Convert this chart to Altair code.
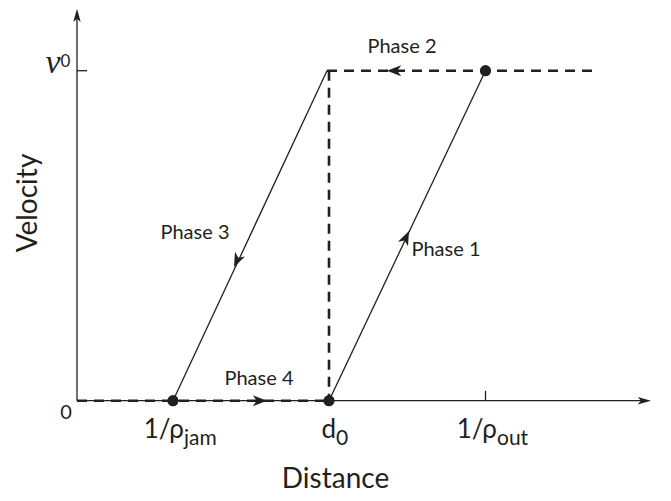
import altair as alt
import pandas as pd

# ---- values (distance in arbitrary units, velocity in units of v0) ----
inv_rho_jam = 0.96
d0 = 2.52
inv_rho_out = 4.085
phase3_top = 2.50
x_axis_end = 5.74
phase2_end = 5.21
v0 = 1.0
y_axis_end = 1.188

# scale domains
X_DOM = [-0.69, 5.86]
Y_DOM = [-0.2797, 1.19]
INK = "#231f20"
FONT = "Lato"

# axes + ticks
axis_x1 = [0, 0, 0, inv_rho_out]
axis_y1 = [0, 0, v0, 0]
axis_x2 = [0, x_axis_end - 0.06, 0.10, inv_rho_out]
axis_y2 = [y_axis_end - 0.03, 0, v0, 0.03]

# solid phase lines (phase 3 and phase 1)
solid_x1 = [inv_rho_jam, d0]
solid_y1 = [0, 0]
solid_x2 = [phase3_top, inv_rho_out]
solid_y2 = [v0, v0]

# dashed lines (phase 2 top, vertical at d0, phase 4 bottom)
dash_x1 = [phase3_top, d0, 0]
dash_y1 = [v0, v0, 0]
dash_x2 = [phase2_end, d0, d0]
dash_y2 = [v0, 0, 0]

# dots
dot_x = [inv_rho_jam, d0, inv_rho_out]
dot_y = [0, 0, v0]

# axis arrow heads (tip positions, direction in degrees clockwise from up)
ax_arrow_x = [0, x_axis_end]
ax_arrow_y = [y_axis_end, 0]
ax_arrow_angle = [0, 90]

# phase arrows on the cycle
ph_arrow_x = [3.32, 3.10, 1.57, 1.90]
ph_arrow_y = [0.514, v0, 0.405, 0]
ph_arrow_angle = [25, 270, 205, 90]

# phase labels
phase_text = ["Phase 1", "Phase 2", "Phase 3", "Phase 4"]
phase_x = [3.69, 3.25, 1.18, 1.82]
phase_y = [0.456, 1.072, 0.508, 0.066]

# tick labels: main part + subscript
tick_main = ["1/ρ", "d", "1/ρ"]
tick_sub = ["jam", "0", "out"]
tick_split_x = [1.07, 2.59, 4.20]
tick_main_y = [-0.112, -0.112, -0.112]
tick_sub_y = [-0.133, -0.133, -0.133]

xs = alt.Scale(domain=X_DOM, nice=False, zero=False)
ys = alt.Scale(domain=Y_DOM, nice=False, zero=False)


def X(f="x"):
    return alt.X(f"{f}:Q", scale=xs, axis=None)


def Y(f="y"):
    return alt.Y(f"{f}:Q", scale=ys, axis=None)


axes = alt.Chart(pd.DataFrame({"x": axis_x1, "y": axis_y1, "x2": axis_x2, "y2": axis_y2})).mark_rule(
    color=INK, strokeWidth=1.3
).encode(x=X(), y=Y(), x2="x2:Q", y2="y2:Q")

solid = alt.Chart(pd.DataFrame({"x": solid_x1, "y": solid_y1, "x2": solid_x2, "y2": solid_y2})).mark_rule(
    color=INK, strokeWidth=1.3
).encode(x=X(), y=Y(), x2="x2:Q", y2="y2:Q")

dashed = alt.Chart(pd.DataFrame({"x": dash_x1, "y": dash_y1, "x2": dash_x2, "y2": dash_y2})).mark_rule(
    color=INK, strokeWidth=2.6, strokeDash=[10, 7]
).encode(x=X(), y=Y(), x2="x2:Q", y2="y2:Q")

dots = alt.Chart(pd.DataFrame({"x": dot_x, "y": dot_y})).mark_point(
    shape="circle", filled=True, size=125, color=INK, opacity=1
).encode(x=X(), y=Y())

ax_arrows = alt.Chart(pd.DataFrame({"x": ax_arrow_x, "y": ax_arrow_y, "a": ax_arrow_angle})).mark_point(
    shape="M0,0L0.5,1.8L0,1.35L-0.5,1.8Z", filled=True, size=220, color=INK, opacity=1, strokeWidth=0
).encode(x=X(), y=Y(), angle=alt.Angle("a:Q", scale=None))

ph_arrows = alt.Chart(pd.DataFrame({"x": ph_arrow_x, "y": ph_arrow_y, "a": ph_arrow_angle})).mark_point(
    shape="M0,0L0.7,1.8L0,1.3L-0.7,1.8Z", filled=True, size=250, color=INK, opacity=1, strokeWidth=0
).encode(x=X(), y=Y(), angle=alt.Angle("a:Q", scale=None))

phase_labels = alt.Chart(pd.DataFrame({"x": phase_x, "y": phase_y, "t": phase_text})).mark_text(
    font=FONT, fontSize=20, color=INK, align="center", baseline="middle"
).encode(x=X(), y=Y(), text="t:N")

tick_main_lbl = alt.Chart(pd.DataFrame({"x": tick_split_x, "y": tick_main_y, "t": tick_main})).mark_text(
    font=FONT, fontSize=26, color=INK, align="right", baseline="alphabetic"
).encode(x=X(), y=Y(), text="t:N")

tick_sub_lbl = alt.Chart(pd.DataFrame({"x": tick_split_x, "y": tick_sub_y, "t": tick_sub})).mark_text(
    font=FONT, fontSize=21, color=INK, align="left", baseline="alphabetic"
).encode(x=X(), y=Y(), text="t:N")

zero_lbl = alt.Chart(pd.DataFrame({"x": [-0.11], "y": [-0.056], "t": ["0"]})).mark_text(
    font=FONT, fontSize=20, color=INK, align="center", baseline="alphabetic"
).encode(x=X(), y=Y(), text="t:N")

nu_lbl = alt.Chart(pd.DataFrame({"x": [-0.165], "y": [0.993], "t": ["ν"]})).mark_text(
    font="Liberation Serif", fontStyle="italic", fontSize=34, color=INK, align="right", baseline="alphabetic"
).encode(x=X(), y=Y(), text="t:N")

nu_sup = alt.Chart(pd.DataFrame({"x": [-0.165], "y": [1.011], "t": ["0"]})).mark_text(
    font=FONT, fontSize=17, color=INK, align="left", baseline="alphabetic"
).encode(x=X(), y=Y(), text="t:N")

ylab = alt.Chart(pd.DataFrame({"x": [-0.40], "y": [0.599], "t": ["Velocity"]})).mark_text(
    font=FONT, fontSize=28, color=INK, align="center", baseline="alphabetic", angle=270
).encode(x=X(), y=Y(), text="t:N")

xlab = alt.Chart(pd.DataFrame({"x": [2.585], "y": [-0.266], "t": ["Distance"]})).mark_text(
    font=FONT, fontSize=28, color=INK, align="center", baseline="alphabetic"
).encode(x=X(), y=Y(), text="t:N")

chart = alt.layer(
    axes, solid, dashed, dots, ax_arrows, ph_arrows,
    phase_labels, tick_main_lbl, tick_sub_lbl, zero_lbl, nu_lbl, nu_sup, ylab, xlab
).properties(
    width=655, height=485, autosize=alt.AutoSizeParams(type="none"), padding=0
).configure_view(stroke=None)

chart.save("out.html", embed_options={"renderer": "svg", "actions": False})
